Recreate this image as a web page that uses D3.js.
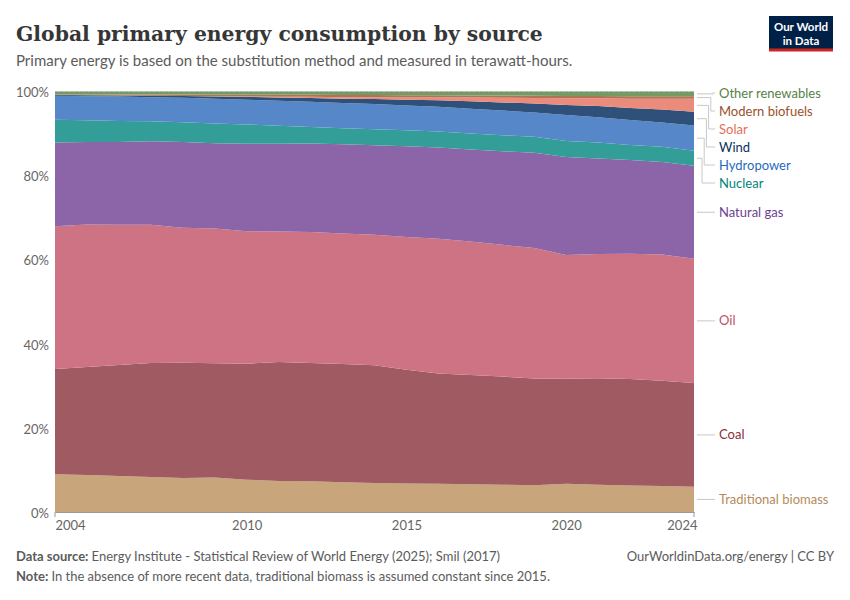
<!DOCTYPE html>
<html><head><meta charset="utf-8">
<script src="https://cdn.jsdelivr.net/npm/d3@7"></script>
<style>
body{margin:0;background:#fff;}
svg{font-family:Lato,"Noto Sans",sans-serif;}
</style>
</head><body>
<svg id="chart" width="850" height="600"></svg>
<script>
// ---------- data (shares, %) ----------
const years = [2004,2005,2006,2007,2008,2009,2010,2011,2012,2013,2014,2015,2016,2017,2018,2019,2020,2021,2022,2023,2024];
const traditionalBiomass = [9.0,8.8,8.6,8.3,8.1,8.2,7.7,7.4,7.3,7.1,6.9,6.8,6.7,6.6,6.5,6.4,6.7,6.5,6.3,6.2,6.0];
const coal = [25.0,25.7,26.4,27.1,27.4,27.2,27.6,28.3,28.1,28.1,28.0,27.0,26.2,26.0,25.8,25.4,25.0,25.3,25.3,25.0,24.7];
const oil = [34.0,33.9,33.4,32.9,32.1,32.1,31.6,31.0,31.1,31.0,31.0,31.6,32.0,31.8,31.4,31.1,29.4,29.5,29.8,30.0,29.6];
const naturalGas = [19.9,19.6,19.7,19.8,20.4,20.3,20.8,20.9,21.0,21.2,21.3,21.6,21.7,21.9,22.3,22.7,23.3,22.7,22.3,22.0,22.1];
const nuclear = [5.4,5.2,5.0,4.8,4.7,4.7,4.6,4.3,3.9,3.8,3.8,3.8,3.8,3.8,3.8,3.8,3.8,3.8,3.6,3.6,3.6];
const hydropower = [5.7,5.7,5.8,5.7,5.8,5.9,5.9,5.9,6.0,6.0,6.0,5.9,5.9,5.9,5.9,5.8,6.2,6.0,5.9,5.8,6.0];
const wind = [0.17,0.2,0.25,0.33,0.42,0.53,0.66,0.8,0.93,1.05,1.15,1.35,1.5,1.75,1.95,2.15,2.4,2.65,2.9,3.05,3.25];
const solar = [0.01,0.01,0.02,0.02,0.04,0.06,0.1,0.18,0.27,0.36,0.45,0.55,0.7,0.9,1.1,1.3,1.6,1.85,2.2,2.6,3.1];
const modernBiofuels = [0.15,0.2,0.25,0.3,0.35,0.4,0.45,0.45,0.45,0.5,0.5,0.5,0.5,0.5,0.55,0.55,0.55,0.55,0.6,0.6,0.6];
const otherRenewables = [0.7,0.7,0.7,0.7,0.7,0.75,0.75,0.8,0.8,0.85,0.85,0.9,0.9,0.95,0.95,1.0,1.05,1.05,1.1,1.1,1.15];

const seriesNames = ["Traditional biomass","Coal","Oil","Natural gas","Nuclear","Hydropower","Wind","Solar","Modern biofuels","Other renewables"];
const seriesValues = [traditionalBiomass,coal,oil,naturalGas,nuclear,hydropower,wind,solar,modernBiofuels,otherRenewables];
const yTickValues = [0,0.2,0.4,0.6,0.8,1];
const xTickValues = [2004,2010,2015,2020,2024];

// ---------- styles ----------
const fillColors = ["#c8a57a","#a05a62","#ce7383","#8b65a8","#339e98","#5587c9","#2e5079","#eb8b7b","#ae7454","#769a66"];
const labelColors = ["#b58b58","#883039","#c15065","#6d3e91","#00847e","#286bbb","#0e2f5c","#e56e5a","#9a5129","#578145"];

const svg = d3.select("#chart");
const M = {left:55, right:694, top:91.5, bottom:512};

// table for stack
const table = years.map((yr,i)=>{
  const row = {year:yr};
  seriesNames.forEach((n,k)=>row[n]=seriesValues[k][i]);
  return row;
});
const stacked = d3.stack().keys(seriesNames).offset(d3.stackOffsetExpand)(table);

const x = d3.scaleLinear().domain([years[0], years[years.length-1]]).range([M.left, M.right]);
const y = d3.scaleLinear().domain([0,1]).range([M.bottom, M.top]);

// title
const title = svg.append("text").attr("x",16).attr("y",40.5)
  .attr("font-family","'DejaVu Serif',serif").attr("font-weight",700)
  .attr("font-size",26).attr("fill","#363636")
  .text("Global primary energy consumption by source");
const tl = title.node().getComputedTextLength();
title.attr("font-size", 26*527/tl);

svg.append("text").attr("x",16).attr("y",66).attr("font-size",15).attr("fill","#5b5b5b")
  .text("Primary energy is based on the substitution method and measured in terawatt-hours.");

// logo
const logo = svg.append("g");
logo.append("rect").attr("x",769).attr("y",16).attr("width",64).attr("height",33).attr("fill","#002147");
logo.append("rect").attr("x",769).attr("y",48.5).attr("width",64).attr("height",3).attr("fill","#ce261e");
logo.append("text").attr("x",801).attr("y",30.5).attr("text-anchor","middle").attr("fill","#fff")
  .attr("font-size",11.5).attr("font-weight",700).text("Our World");
logo.append("text").attr("x",801).attr("y",44.5).attr("text-anchor","middle").attr("fill","#fff")
  .attr("font-size",11.5).attr("font-weight",700).text("in Data");

// gridlines
svg.append("g").selectAll("line").data(yTickValues).join("line")
  .attr("x1",M.left).attr("x2",M.right).attr("y1",d=>y(d)).attr("y2",d=>y(d))
  .attr("stroke","#dcdcdc").attr("stroke-dasharray","3,2");

// areas
const area = d3.area().x(d=>x(d.data.year)).y0(d=>y(d[0])).y1(d=>y(d[1]));
svg.append("g").selectAll("path").data(stacked).join("path")
  .attr("d",area).attr("fill",(d,i)=>fillColors[i]);

// y axis
const yAxis = svg.append("g").attr("transform",`translate(${M.left},0)`)
  .call(d3.axisLeft(y).tickValues(yTickValues).tickFormat(d3.format(".0%")).tickSize(0).tickPadding(6));
yAxis.select(".domain").remove();
yAxis.selectAll("text").attr("font-size",13).attr("fill","#666").attr("font-family","Lato,sans-serif").attr("dy","0.4em");

// x axis
const xAxis = svg.append("g").attr("transform",`translate(0,${M.bottom})`)
  .call(d3.axisBottom(x).tickValues(xTickValues).tickFormat(d3.format("d")).tickSize(0).tickPadding(9));
xAxis.select(".domain").attr("stroke","#999");
xAxis.selectAll("text").attr("font-size",13).attr("fill","#666").attr("font-family","Lato,sans-serif");
xAxis.selectAll(".tick text").filter(d=>d===years[0]).attr("text-anchor","start");
xAxis.selectAll(".tick text").filter(d=>d===years[years.length-1]).attr("text-anchor","end").attr("dx",3);
svg.append("g").selectAll("line").data([years[0],years[years.length-1]]).join("line")
  .attr("x1",d=>x(d)).attr("x2",d=>x(d)).attr("y1",M.bottom).attr("y2",M.bottom+5).attr("stroke","#999");

// right labels
const last = years.length-1;
const lbls = stacked.map((s,i)=>({name:seriesNames[i], color:labelColors[i], target:y((s[last][0]+s[last][1])/2)}));
lbls.sort((a,b)=>a.target-b.target);
const sp = 18, minY = 93;
let groups = [];
lbls.forEach(l=>{
  groups.push({items:[l], mean:l.target});
  let merged = true;
  while(merged && groups.length>1){
    merged=false;
    const g = groups[groups.length-1], p = groups[groups.length-2];
    const place = gg=>Math.max(minY, gg.mean - (gg.items.length-1)*sp/2);
    const pEnd = place(p) + (p.items.length-1)*sp;
    if(place(g) < pEnd + sp){
      const items = p.items.concat(g.items);
      groups.splice(groups.length-2,2,{items, mean:d3.mean(items,d=>d.target)});
      merged=true;
    }
  }
});
groups.forEach(g=>{
  const start = Math.max(minY, g.mean - (g.items.length-1)*sp/2);
  g.items.forEach((it,k)=>{ it.ly = start + k*sp; it.bent = g.items.length>1; it.rank=k; });
});
const lg = svg.append("g");
lbls.forEach(l=>{
  let path;
  if(l.bent){
    const ex = 713 - l.rank*2.2;
    path = `M${M.right+3},${l.target}H${ex}V${l.ly}H${715}`;
  } else {
    path = `M${M.right+3},${l.target}H${715}`;
  }
  lg.append("path").attr("d",path).attr("fill","none").attr("stroke","#c8c8c8").attr("stroke-width",1);
  lg.append("text").attr("x",719).attr("y",l.ly).attr("dy","0.35em").attr("font-size",13)
    .attr("fill",l.color).text(l.name);
});

// footer
const f1 = svg.append("text").attr("x",16).attr("y",561).attr("font-size",13).attr("fill","#5b5b5b");
f1.append("tspan").attr("font-weight",700).text("Data source: ");
f1.append("tspan").text("Energy Institute - Statistical Review of World Energy (2025); Smil (2017)");
svg.append("text").attr("x",834).attr("y",561).attr("text-anchor","end").attr("font-size",13).attr("fill","#5b5b5b")
  .text("OurWorldinData.org/energy | CC BY");
const f2 = svg.append("text").attr("x",16).attr("y",581).attr("font-size",13).attr("fill","#5b5b5b");
f2.append("tspan").attr("font-weight",700).text("Note: ");
f2.append("tspan").text("In the absence of more recent data, traditional biomass is assumed constant since 2015.");
</script>
</body></html>
